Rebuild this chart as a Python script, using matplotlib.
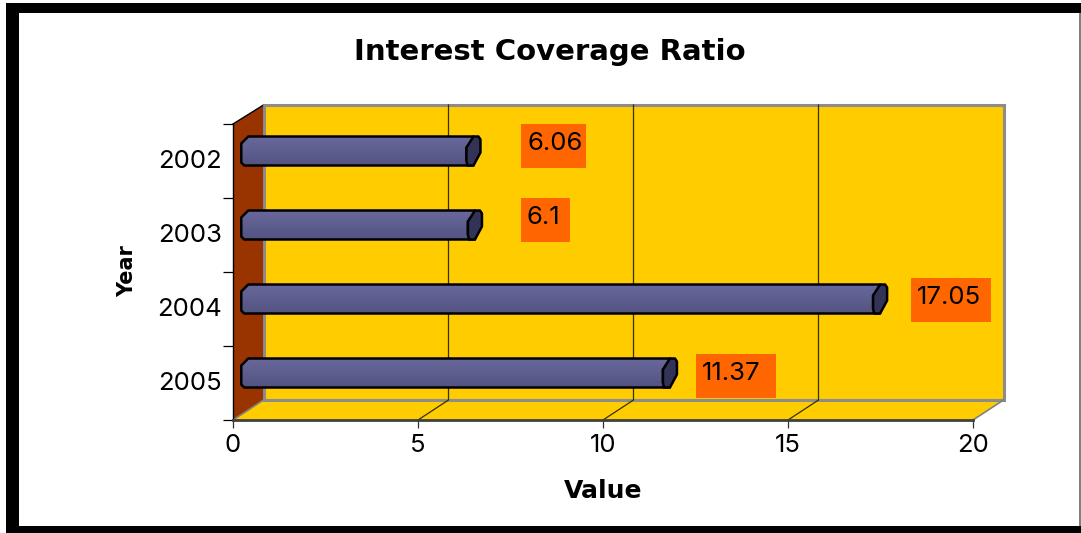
import numpy as np
import matplotlib
matplotlib.use('Agg')
import matplotlib.pyplot as plt
from matplotlib.patches import Polygon, Rectangle
from matplotlib.transforms import ScaledTranslation

plt.rcParams['font.family'] = ['Inter', 'Liberation Sans', 'DejaVu Sans']
head_font = ['DejaVu Sans']

title = 'Interest Coverage Ratio'
years = ['2002', '2003', '2004', '2005']
values = [6.06, 6.1, 17.05, 11.37]
value_text = ['6.06', '6.1', '17.05', '11.37']
xticks = [0, 5, 10, 15, 20]

# label box layout in pixels, bar end -> box left, box width, rise above bar centre
box_gap = [49, 47, 32, 27]
box_width = [65, 49, 80, 80]
box_rise = [27.5, 27.5, 21.5, 19.5]

W, H = 1081, 533
fig = plt.figure(figsize=(W / 100, H / 100), dpi=100, facecolor='white')

# outer frame
def frame(x, y, w, h, c):
    fig.add_artist(Rectangle((x / W, 1 - (y + h) / H), w / W, h / H, transform=fig.transFigure, fc=c, ec='none'))

frame(6, 3, 1075, 10, 'black')
frame(6, 3, 13, 530, 'black')
frame(6, 526, 1075, 7, 'black')
frame(1079, 13, 2, 513, '#808080')

# axes = front plane of the 3d box
ax = fig.add_axes([233 / W, 1 - 420 / H, 740 / W, 296 / H])
ax.set_xlim(0, 20)
ax.set_ylim(3.5, -0.5)
ax.patch.set_visible(False)

px = 20 / 740      # one pixel in x units
py = 4 / 296       # one pixel in y units
dx = 30.5 * px     # depth of the box
dy = 20 * py
top, bot = -0.5, 3.5

def poly(pts, **kw):
    p = Polygon(pts, closed=True, clip_on=False, **kw)
    ax.add_patch(p)
    return p

# floor, back wall, side wall
poly([(0, bot), (dx, bot - dy), (20 + dx, bot - dy), (20, bot)], fc='#FFCC00', ec='none', zorder=1)
poly([(dx, top - dy + py), (20 + dx, top - dy + py), (20 + dx, bot - dy), (dx, bot - dy)], fc='#FFCC00', ec='#8C8C8C', lw=2.2, zorder=1)
poly([(0, top), (dx, top - dy + py), (dx, bot - dy), (0, bot)], fc='#993300', ec='none', zorder=1.5)
ax.plot([0, dx], [top, top - dy + py], color='black', lw=1, clip_on=False, zorder=2)
ax.plot([0, dx], [bot, bot - dy], color='#808080', lw=1.2, clip_on=False, zorder=2)
ax.plot([dx, dx], [top - dy + py, bot - dy], color='#8C8C8C', lw=2, clip_on=False, zorder=2)
ax.plot([20, 20 + dx], [bot, bot - dy], color='#808080', lw=1.2, clip_on=False, zorder=2)

# grid lines on floor and wall
for t in xticks[1:-1]:
    ax.plot([t, t + dx, t + dx], [bot, bot - dy, top - dy + py], color='#333300', lw=0.9, clip_on=False, zorder=2)

grad = np.linspace(0, 1, 32).reshape(-1, 1)
cmap = matplotlib.colors.LinearSegmentedColormap.from_list('bar', ['#68689C', '#545482'])

# bars sit half way into the depth
for i, v in enumerate(values):
    e = v + dx / 2
    y0 = i - dy / 2 - 14.5 * py
    y1 = i - dy / 2 + 14.5 * py
    s = dx / 2
    pts = [(s - 7 * px, y0 + 7 * py), (s, y0), (e + 1 * px, y0),
           (e, y0 + 4 * py), (e - 6 * px, y0 + 11 * py), (e - 6 * px, y1 - 5 * py), (e + 1 * px, y1),
           (s - 4 * px, y1), (s - 7 * px, y1 - 3 * py)]
    p = poly(pts, fc='none', ec='black', lw=1.8, zorder=4, joinstyle='round')
    im = ax.imshow(grad, extent=(s - 7 * px, e + 1 * px, y1, y0), cmap=cmap, aspect='auto', zorder=3)
    im.set_clip_path(p)
    cap = [(e + 1 * px, y0), (e + 6 * px, y0), (e + 8 * px, y0 + 3 * py), (e + 8 * px, y0 + 16 * py),
           (e + 1 * px, y1), (e - 5 * px, y1), (e - 6 * px, y1 - 5 * py), (e - 6 * px, y0 + 11 * py)]
    poly(cap, fc='#333358', ec='black', lw=1.8, zorder=5, joinstyle='round')

    # value label
    bx = e + box_gap[i] * px
    by = i - dy / 2 - box_rise[i] * py
    ax.add_patch(Rectangle((bx, by), box_width[i] * px, 44 * py, fc='#FF6600', ec='none', zorder=6, clip_on=False))
    ax.text(bx + 6 * px, by + 20 * py, value_text[i], fontsize=18.5, color='black', ha='left', va='center', zorder=7, clip_on=False)

ax.set_xlim(0, 20)
ax.set_ylim(3.5, -0.5)

for s in ['top', 'right']:
    ax.spines[s].set_visible(False)
ax.spines['left'].set_color('black')
ax.spines['left'].set_linewidth(1)
ax.spines['bottom'].set_color('#404040')
ax.spines['bottom'].set_linewidth(2)
ax.spines['left'].set_zorder(8)
ax.spines['bottom'].set_zorder(8)

ax.set_xticks(xticks)
ax.set_xticklabels([str(t) for t in xticks], fontsize=18.5)
ax.tick_params(axis='x', length=6, width=0.9, pad=4, color='#333333')
ax.set_yticks(np.arange(-0.5, 4, 1))
ax.set_yticklabels([])
ax.set_yticks(range(4), minor=True)
ax.set_yticklabels(years, minor=True, fontsize=18.5)
ax.tick_params(axis='y', which='major', length=7, width=0.9, color='black')
ax.tick_params(axis='y', which='minor', length=0, pad=8)
shift = ScaledTranslation(0, 2 / 100, fig.dpi_scale_trans)
for lab in ax.get_yticklabels(minor=True):
    lab.set_transform(lab.get_transform() + shift)

fig.text(550 / W, 1 - 51.5 / H, title, fontsize=21, fontweight='bold', ha='center', va='center', family=head_font)
fig.text(127 / W, 1 - 271 / H, 'Year', fontsize=15, fontweight='bold', rotation=90, ha='center', va='center', family=head_font)
fig.text(603 / W, 1 - 491 / H, 'Value', fontsize=18, fontweight='bold', ha='center', va='center', family=head_font)

fig.savefig('out.png', dpi=100)
